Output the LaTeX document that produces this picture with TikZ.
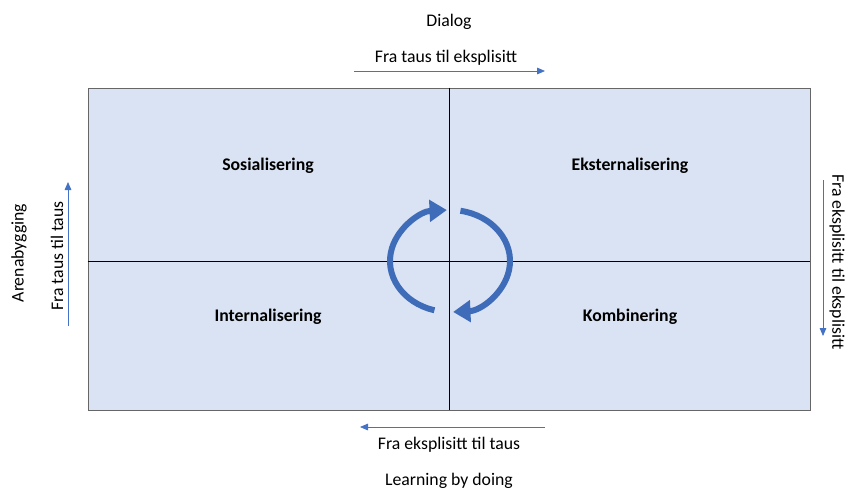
\documentclass[tikz,border=0pt]{standalone}
\usepackage{fontspec}
\setmainfont{Carlito}
\usepackage{tikz}
\usetikzlibrary{arrows.meta,positioning}
\definecolor{boxfill}{HTML}{DAE3F3}
\definecolor{arrblue}{HTML}{4472C4}
\definecolor{ringblue}{HTML}{3F6CB8}

\begin{document}
\begin{tikzpicture}[
    x=0.75pt, y=0.75pt,
    lbl/.style={font=\fontsize{13.3}{16}\selectfont, inner sep=0pt},
    quad/.style={lbl, font=\fontsize{13.3}{16}\selectfont\bfseries},
    thin arr/.style={-{Triangle[width=5pt, length=6pt]}, arrblue, line width=0.6pt},
    ring/.style={ringblue, line width=4.5pt, -{Triangle[width=16pt, length=13pt]}}
]
    \useasboundingbox (0,0) rectangle (850,-489);

    % Matrix frame
    \node[draw=black!60, fill=boxfill, line width=0.6pt, minimum width=541.5pt, minimum height=241.5pt, inner sep=0pt] (frame) at (449,-249) {};
    \coordinate (c) at (450,-261);
    \draw[black, line width=0.5pt] (frame.north) -- (frame.south);
    \draw[black, line width=0.5pt] (frame.west |- c) -- (frame.east |- c);

    % Quadrants
    \node[quad] (sos) at (268,-166) {Sosialisering};
    \node[quad] (eks) at (630,-166) {Eksternalisering};
    \node[quad] (int) at (268,-317) {Internalisering};
    \node[quad] (kom) at (630,-317) {Kombinering};

    % Top
    \node[lbl] (dialog) at (449,-22) {Dialog};
    \node[lbl] (tops) at (446,-58) {Fra taus til eksplisitt};
    \coordinate (t1) at (354,-71);
    \coordinate (t2) at (545,-71);
    \draw[thin arr] (t1) -- (t2);

    % Bottom
    \coordinate (b1) at (545,-427);
    \coordinate (b2) at (360,-427);
    \draw[thin arr] (b1) -- (b2);
    \node[lbl] (bots) at (449,-445) {Fra eksplisitt til taus};
    \node[lbl] (doing) at (449,-481) {Learning by doing};

    % Left
    \node[lbl, rotate=90] (arena) at (19,-253) {Arenabygging};
    \node[lbl, rotate=90] (lefts) at (57,-256) {Fra taus til taus};
    \coordinate (l1) at (68,-326);
    \coordinate (l2) at (68,-182);
    \draw[thin arr] (l1) -- (l2);

    % Right
    \node[lbl, rotate=-90] (rights) at (837,-262) {Fra eksplisitt til eksplisitt};
    \coordinate (r1) at (823,-180);
    \coordinate (r2) at (823,-336);
    \draw[thin arr] (r1) -- (r2);

    % Cycle
    \draw[ring] ([shift={(255:60 and 51)}]c) arc[start angle=255, end angle=93, x radius=60, y radius=51];
    \draw[ring] ([shift={(80:60 and 51)}]c) arc[start angle=80, end angle=-87, x radius=60, y radius=51];
\end{tikzpicture}
\end{document}
